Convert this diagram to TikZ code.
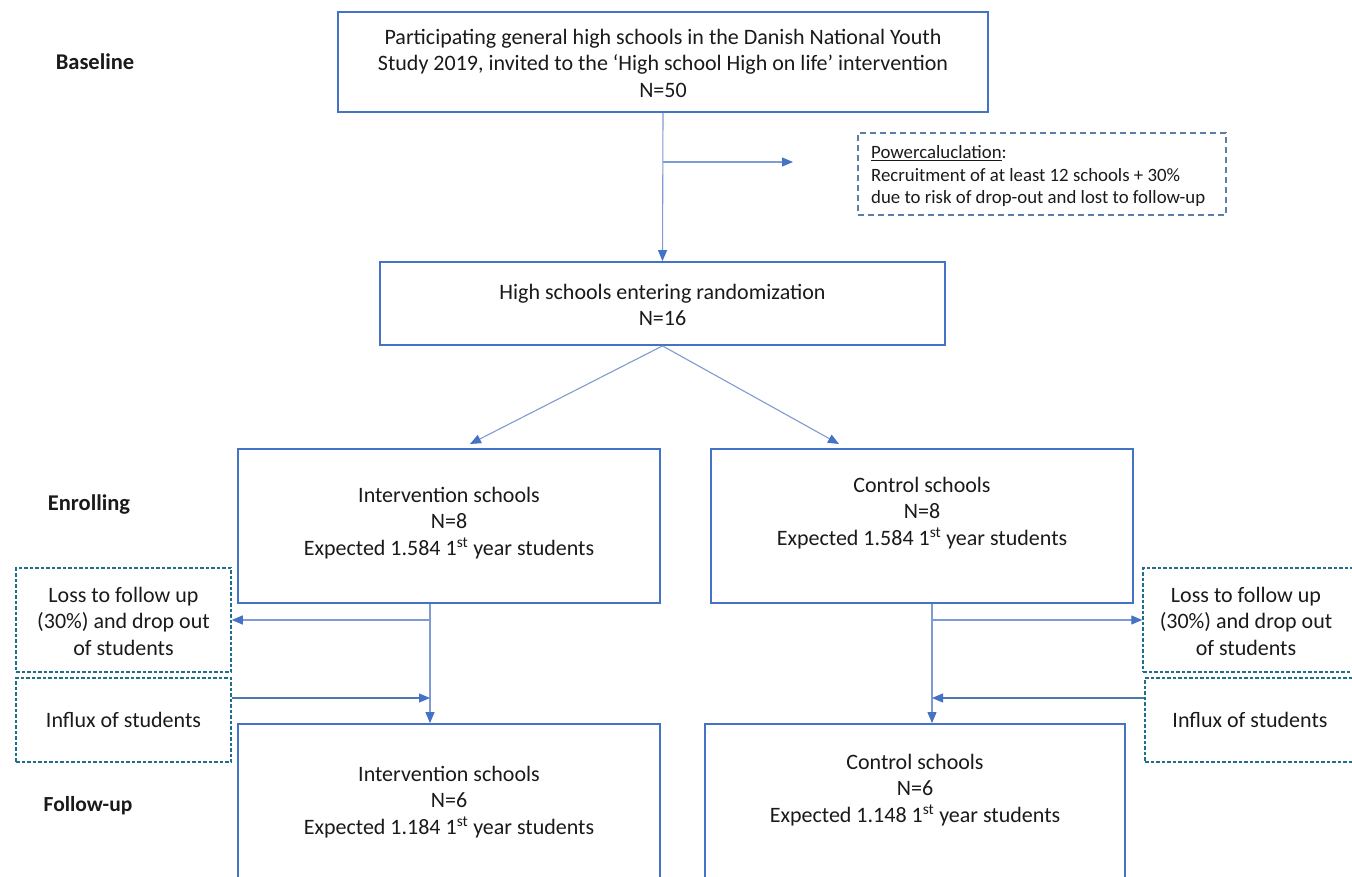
\documentclass[tikz,border=0pt]{standalone}
\usepackage{fontspec}
\setmainfont{Carlito}
\usetikzlibrary{arrows.meta}
\definecolor{boxblue}{HTML}{4472C4}
\definecolor{linkblue}{HTML}{7E9CD2}
\definecolor{influxblue}{HTML}{4A7BA8}
\definecolor{pcgray}{HTML}{5A7EA6}
\definecolor{teal}{HTML}{1F6F8B}
\definecolor{txtc}{HTML}{1A1A1A}
\tikzset{
  solidbox/.style={draw=boxblue, line width=1.8pt, rectangle, inner sep=0pt},
  pcbox/.style={draw=pcgray, line width=1.4pt, dash pattern=on 6pt off 4pt, rectangle, inner sep=0pt},
  sidebox/.style={draw=teal, line width=1.5pt, dash pattern=on 3.5pt off 2pt, rectangle, inner sep=0pt},
  txt/.style={text=txtc, align=center, inner sep=0pt, font=\fontsize{22}{26.5}\selectfont},
  pctxt/.style={text=txtc, align=left, inner sep=0pt, font=\fontsize{18.8}{22.5}\selectfont},
  phase/.style={text=txtc, inner sep=0pt, font=\fontsize{22.5}{24}\selectfont\bfseries},
  conn/.style={draw=linkblue, line width=1.1pt},
  arr/.style={conn, -{Triangle[length=11pt,width=9pt,fill=boxblue,color=boxblue]}},
  inarr/.style={arr, draw=influxblue},
}
\begin{document}
\begin{tikzpicture}[x=1pt,y=-1pt]
\useasboundingbox (0,0) rectangle (1352,877);
\clip (0,0) rectangle (1352,877);
\fill[white] (0,0) rectangle (1352,877);

% phase labels
\node[phase] (lbase) at (95,62) {Baseline};
\node[phase] (lenr) at (89,505) {Enrolling};
\node[phase, font=\fontsize{21.5}{24}\selectfont\bfseries] (lfol) at (88,806) {Follow-up};

% boxes
\node[solidbox, minimum width=650pt, minimum height=100pt] (top) at (663,62) {};
\node[txt] (topT) at (663,63) {Participating general high schools in the Danish National Youth\\Study 2019, invited to the ‘High school High on life’ intervention\\N=50};

\node[pcbox, minimum width=368pt, minimum height=82pt] (pc) at (1042,174) {};
\node[pctxt, anchor=west] (pcT) at (871,176) {\underline{Powercaluclation}:\\Recruitment of at least 12 schools + 30\%\\due to risk of drop-out and lost to follow-up};

\node[solidbox, minimum width=565pt, minimum height=83pt] (rand) at (662.5,303.5) {};
\node[txt] (randT) at (662.5,305) {High schools entering randomization\\N=16};

\node[solidbox, minimum width=422pt, minimum height=154pt] (int) at (449,526) {};
\node[txt] (intT) at (449,523) {Intervention schools\\N=8\\Expected 1.584 1\textsuperscript{st} year students};

\node[solidbox, minimum width=422pt, minimum height=154pt] (ctl) at (922,526) {};
\node[txt] (ctlT) at (922,513) {Control schools\\N=8\\Expected 1.584 1\textsuperscript{st} year students};

\node[sidebox, minimum width=215pt, minimum height=104pt] (lossL) at (123.5,620) {};
\node[txt] (lossLT) at (123.5,621) {Loss to follow up\\(30\%) and drop out\\of students};
\node[sidebox, minimum width=215pt, minimum height=84pt] (infL) at (123.5,720) {};
\node[txt] (infLT) at (123.5,720) {Influx of students};

\node[sidebox, minimum width=210pt, minimum height=104pt] (lossR) at (1248,620) {};
\node[txt] (lossRT) at (1246,621) {Loss to follow up\\(30\%) and drop out\\of students};
\node[sidebox, minimum width=210pt, minimum height=84pt] (infR) at (1250,720) {};
\node[txt] (infRT) at (1250,720) {Influx of students};

\node[solidbox, minimum width=422pt, minimum height=200pt] (intF) at (449,824) {};
\node[txt] (intFT) at (449,802) {Intervention schools\\N=6\\Expected 1.184 1\textsuperscript{st} year students};

\node[solidbox, minimum width=420pt, minimum height=200pt] (ctlF) at (915,824) {};
\node[txt] (ctlFT) at (915,790) {Control schools\\N=6\\Expected 1.148 1\textsuperscript{st} year students};

% connectors
\coordinate (pcEnd) at (793,162);
\coordinate (aL) at (470,444);
\coordinate (aR) at (839,444);
\coordinate (jL) at (430,0);
\coordinate (jR) at (932,0);

\draw[arr] (top.south) -- (rand.north);
\draw[arr] (top.south |- pcEnd) -- (pcEnd);
\draw[arr] (rand.south) -- (aL);
\draw[arr] (rand.south) -- (aR);

\draw[arr] (jL |- int.south) -- (jL |- intF.north);
\draw[arr] (jL |- lossL.east) -- (lossL.east);
\draw[inarr] ([yshift=22pt]infL.east) -- ([yshift=22pt]infL.east -| jL);

\draw[arr] (jR |- ctl.south) -- (jR |- ctlF.north);
\draw[arr] (jR |- lossR.west) -- (lossR.west);
\draw[inarr] ([yshift=22pt]infR.west) -- ([yshift=22pt]infR.west -| jR);
\end{tikzpicture}
\end{document}
